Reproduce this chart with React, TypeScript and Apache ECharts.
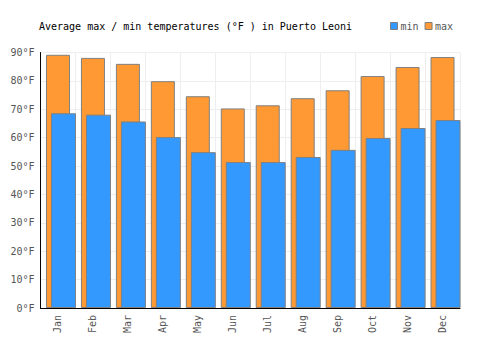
import React, { useEffect, useRef } from "react";
import * as echarts from "echarts";

const months = ["Jan", "Feb", "Mar", "Apr", "May", "Jun", "Jul", "Aug", "Sep", "Oct", "Nov", "Dec"];
const minTemps = [68.6, 68.1, 65.7, 60.2, 54.9, 51.4, 51.4, 53.2, 55.7, 59.9, 63.4, 66.2];
const maxTemps = [89.2, 88.1, 86.0, 79.9, 74.6, 70.3, 71.4, 73.9, 76.7, 81.7, 84.9, 88.4];
const titleText = "Average max / min temperatures (°F ) in Puerto Leoni";

const FONT = "DejaVu Sans Mono";

export default function App() {
  const ref = useRef<HTMLDivElement>(null);
  useEffect(() => {
    if (!ref.current) return;
    const chart = echarts.init(ref.current, undefined, { renderer: "svg" });
    chart.setOption({
      animation: false,
      backgroundColor: "#ffffff",
      title: {
        text: titleText,
        left: 34,
        top: 16,
        textStyle: { fontFamily: FONT, fontSize: 10, fontWeight: "normal", color: "#000" },
      },
      legend: {
        data: ["min", "max"],
        left: 385,
        top: 16,
        itemWidth: 7,
        itemHeight: 7,
        itemGap: 6,
        icon: "rect",
        itemStyle: { borderColor: "#808080", borderWidth: 1 },
        textStyle: { fontFamily: FONT, fontSize: 10, color: "#555", padding: [0, 0, 0, -2] },
      },
      grid: [
        { left: 40.5, right: 40, top: 52.5, bottom: 42, containLabel: false },
        { left: 46, right: 34.5, top: 52.5, bottom: 42, containLabel: false },
      ],
      xAxis: [
        {
          type: "category",
          gridIndex: 0,
          data: months,
          axisLine: { show: true, lineStyle: { color: "#000", width: 1 } },
          axisTick: { show: false },
          splitLine: { show: true, lineStyle: { color: "#eeeeee", width: 1 } },
          axisLabel: {
            rotate: 90,
            margin: 7,
            fontFamily: FONT,
            fontSize: 10,
            color: "#555",
          },
        },
        {
          type: "category",
          gridIndex: 1,
          data: months,
          show: false,
        },
      ],
      yAxis: [
        {
          type: "value",
          gridIndex: 0,
          min: 0,
          max: 90,
          interval: 10,
          axisLine: { show: true, lineStyle: { color: "#000", width: 1 } },
          axisTick: { show: false },
          splitLine: { show: true, lineStyle: { color: "#eeeeee", width: 1 } },
          axisLabel: {
            formatter: "{value}°F",
            margin: 6,
            fontFamily: FONT,
            fontSize: 10,
            color: "#555",
          },
        },
        {
          type: "value",
          gridIndex: 1,
          min: 0,
          max: 90,
          show: false,
          splitLine: { show: false },
        },
      ],
      series: [
        {
          name: "max",
          type: "bar",
          xAxisIndex: 0,
          yAxisIndex: 0,
          data: maxTemps,
          barWidth: 24,
          itemStyle: { color: "#ff9933", borderColor: "#808080", borderWidth: 1 },
        },
        {
          name: "min",
          type: "bar",
          xAxisIndex: 1,
          yAxisIndex: 1,
          data: minTemps,
          barWidth: 25,
          itemStyle: { color: "#3399ff", borderColor: "#808080", borderWidth: 1 },
        },
      ],
    });
    return () => chart.dispose();
  }, []);
  return (
    <div
      ref={ref}
      style={{ position: "absolute", left: 0, top: 0, width: 500, height: 350 }}
    />
  );
}
